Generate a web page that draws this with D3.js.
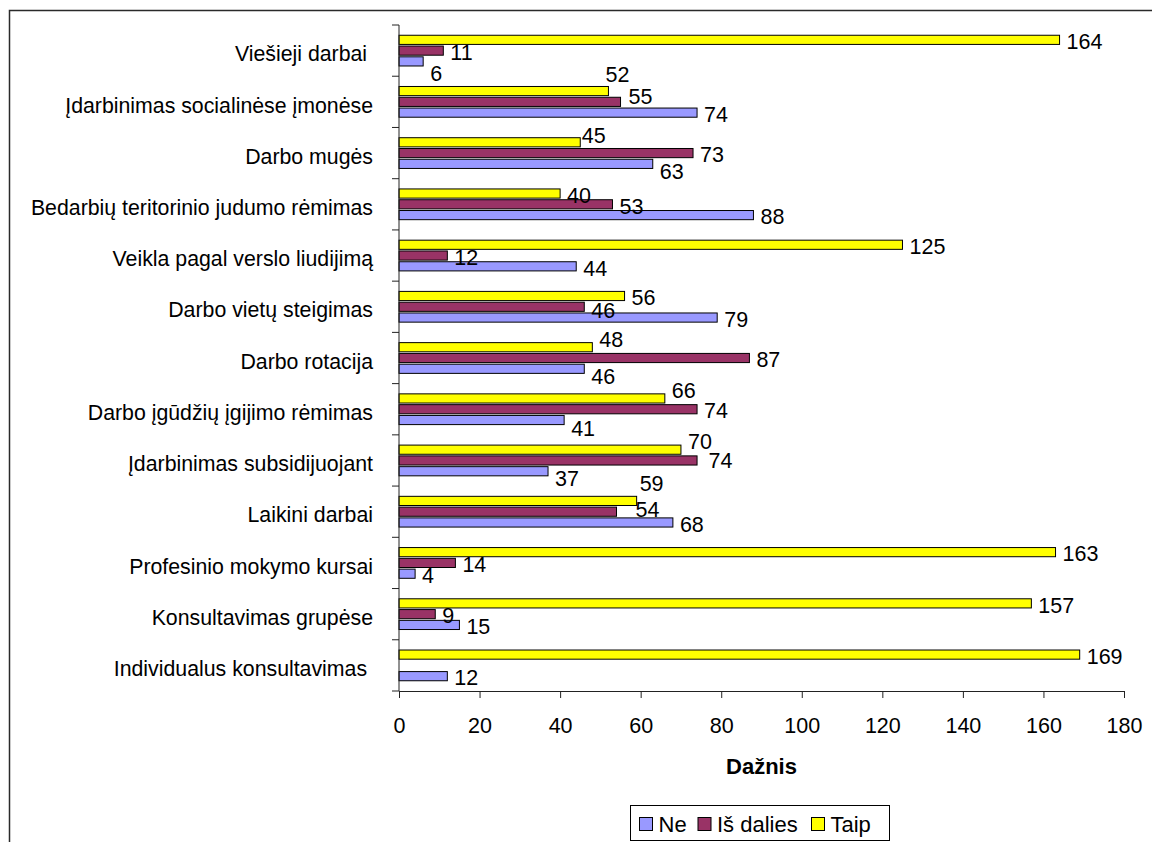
<!DOCTYPE html>
<html>
<head>
<meta charset="utf-8">
<script src="https://cdn.jsdelivr.net/npm/d3@7"></script>
<style>
  html, body { margin: 0; padding: 0; background: #fff; }
  svg { display: block; font-family: "Liberation Sans", Arial, sans-serif; }
</style>
</head>
<body>
<svg id="chart" width="1152" height="842"></svg>
<script>
// Categories, listed top to bottom as drawn
const categories = [
  "Viešieji darbai ",
  "Įdarbinimas socialinėse įmonėse",
  "Darbo mugės",
  "Bedarbių teritorinio judumo rėmimas",
  "Veikla pagal verslo liudijimą",
  "Darbo vietų steigimas",
  "Darbo rotacija",
  "Darbo įgūdžių įgijimo rėmimas",
  "Įdarbinimas subsidijuojant",
  "Laikini darbai",
  "Profesinio mokymo kursai",
  "Konsultavimas grupėse",
  "Individualus konsultavimas "
];

// Frequencies per answer
const ne        = [6, 74, 63, 88, 44, 79, 46, 41, 37, 68, 4, 15, 12];
const isDalies  = [11, 55, 73, 53, 12, 46, 87, 74, 74, 54, 14, 9, null];
const taip      = [164, 52, 45, 40, 125, 56, 48, 66, 70, 59, 163, 157, 169];

const seriesNames = ["Ne", "Iš dalies", "Taip"];
const xTicks = [0, 20, 40, 60, 80, 100, 120, 140, 160, 180];
const axisTitle = "Dažnis";

// Hand-placed value labels that were moved off their bars to avoid overlaps
const labelNudges = [
  { cat: 0, series: "Ne", dx: 0, dy: 10.5 },
  { cat: 1, series: "Taip", dx: -10, dy: -18 },
  { cat: 1, series: "Iš dalies", dx: 1, dy: -7.5 },
  { cat: 2, series: "Taip", dx: -5.5, dy: -9 },
  { cat: 2, series: "Ne", dx: 0, dy: 6 },
  { cat: 5, series: "Iš dalies", dx: 0, dy: 1.5 },
  { cat: 6, series: "Taip", dx: 0, dy: -9 },
  { cat: 6, series: "Ne", dx: 0, dy: 6 },
  { cat: 7, series: "Taip", dx: 0, dy: -9.5 },
  { cat: 7, series: "Ne", dx: 0, dy: 6.5 },
  { cat: 8, series: "Taip", dx: 0, dy: -9.5 },
  { cat: 8, series: "Iš dalies", dx: 4.5, dy: -1.5 },
  { cat: 8, series: "Ne", dx: 0, dy: 5.5 },
  { cat: 9, series: "Taip", dx: -4, dy: -19.5 },
  { cat: 9, series: "Iš dalies", dx: 12, dy: -3.5 }
];

const colors = { "Ne": "#9999FF", "Iš dalies": "#993366", "Taip": "#FFFF00" };
const valuesBySeries = { "Ne": ne, "Iš dalies": isDalies, "Taip": taip };
// Within each group the bars stack Taip (top), Iš dalies, Ne (bottom)
const stackOrder = ["Taip", "Iš dalies", "Ne"];

const svg = d3.select("#chart");
const W = 1152, H = 842;

// Outer chart frame (left and top edges)
svg.append("path")
  .attr("d", `M9.5,${H} V10.5 H${W}`)
  .attr("fill", "none")
  .attr("stroke", "#2a2a2a")
  .attr("stroke-width", 1.5);

const plot = { left: 399, right: 1124, top: 25, bottom: 691 };

const x = d3.scaleLinear().domain([0, 180]).range([plot.left, plot.right]);
const y0 = d3.scaleBand().domain(d3.range(categories.length)).range([plot.top, plot.bottom]).padding(0);
const y1 = d3.scaleBand().domain(stackOrder).range([0, y0.bandwidth()])
  .paddingInner(0.15).paddingOuter(0.95);

const rows = [];
categories.forEach((c, i) => {
  stackOrder.forEach(s => {
    const v = valuesBySeries[s][i];
    if (v === null || v === undefined) return;
    rows.push({ cat: i, series: s, value: v });
  });
});

// Bars
svg.append("g").selectAll("rect")
  .data(rows)
  .join("rect")
  .attr("x", x(0))
  .attr("y", d => y0(d.cat) + y1(d.series))
  .attr("width", d => x(d.value) - x(0))
  .attr("height", y1.bandwidth())
  .attr("fill", d => colors[d.series])
  .attr("stroke", "#000")
  .attr("stroke-width", 1);

// Value labels
const nudgeOf = d => labelNudges.find(n => n.cat === d.cat && n.series === d.series) || { dx: 0, dy: 0 };
svg.append("g").selectAll("text")
  .data(rows)
  .join("text")
  .attr("x", d => x(d.value) + 7 + nudgeOf(d).dx)
  .attr("y", d => y0(d.cat) + y1(d.series) + y1.bandwidth() / 2 + 1.5 + nudgeOf(d).dy)
  .attr("dy", "0.36em")
  .attr("font-size", 21.5)
  .attr("fill", "#000")
  .text(d => d.value);

// Category axis
const yAxisG = svg.append("g");
yAxisG.append("line")
  .attr("x1", plot.left).attr("x2", plot.left)
  .attr("y1", plot.top).attr("y2", plot.bottom)
  .attr("stroke", "#222");
const boundaries = d3.range(categories.length + 1).map(i => i === categories.length ? plot.bottom : y0(i));
yAxisG.selectAll("line.tick")
  .data(boundaries)
  .join("line")
  .attr("class", "tick")
  .attr("x1", plot.left - 7).attr("x2", plot.left)
  .attr("y1", d => d).attr("y2", d => d)
  .attr("stroke", "#222");
yAxisG.selectAll("text")
  .data(categories)
  .join("text")
  .attr("x", 373)
  .attr("y", (d, i) => y0(i) + y0.bandwidth() / 2 + 3)
  .attr("dy", "0.36em")
  .attr("text-anchor", "end")
  .attr("font-size", 21.3)
  .attr("xml:space", "preserve")
  .style("white-space", "pre")
  .text(d => d);

// Value axis
const xAxis = d3.axisBottom(x).tickValues(xTicks).tickSize(7).tickPadding(20).tickSizeOuter(0);
const xAxisG = svg.append("g")
  .attr("transform", `translate(0,${plot.bottom})`)
  .call(xAxis);
xAxisG.select(".domain").attr("stroke", "#222");
xAxisG.selectAll(".tick line").attr("stroke", "#222");
xAxisG.selectAll(".tick text")
  .attr("font-size", 21.5)
  .attr("font-family", "Liberation Sans, Arial, sans-serif")
  .attr("fill", "#000");

svg.append("text")
  .attr("x", (plot.left + plot.right) / 2)
  .attr("y", 774)
  .attr("text-anchor", "middle")
  .attr("font-size", 22)
  .attr("font-weight", "bold")
  .text(axisTitle);

// Legend
const legend = svg.append("g");
legend.append("rect")
  .attr("x", 630.5).attr("y", 805.5)
  .attr("width", 259).attr("height", 35)
  .attr("fill", "#fff")
  .attr("stroke", "#000");
const legendX = { "Ne": 639, "Iš dalies": 697.5, "Taip": 811 };
seriesNames.forEach(s => {
  legend.append("rect")
    .attr("x", legendX[s] + 0.5).attr("y", 817.5)
    .attr("width", 13).attr("height", 13)
    .attr("fill", colors[s])
    .attr("stroke", "#000");
  legend.append("text")
    .attr("x", legendX[s] + 19.5)
    .attr("y", 831.5)
    .attr("font-size", 22)
    .text(s);
});
</script>
</body>
</html>
